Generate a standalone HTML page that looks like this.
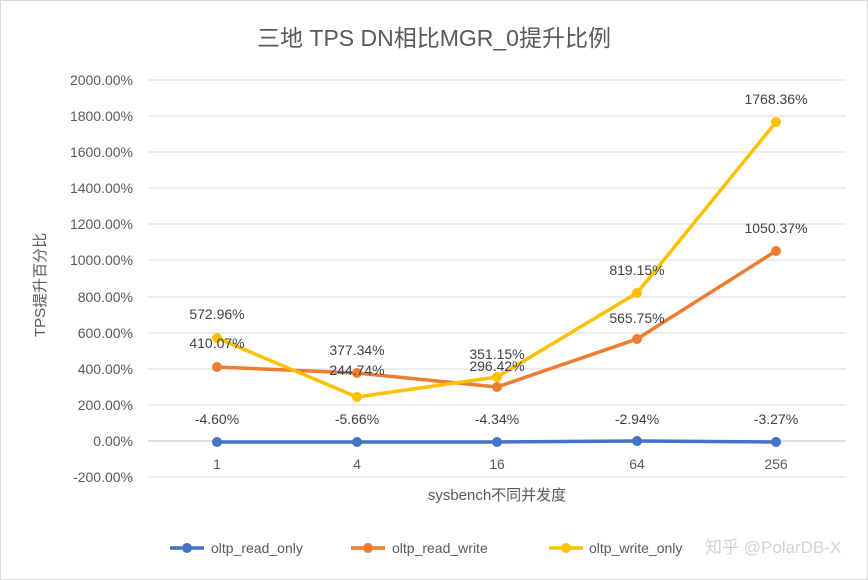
<!DOCTYPE html>
<html><head><meta charset="utf-8"><style>
html,body{margin:0;padding:0;background:#fff;}
svg{display:block;font-family:"Liberation Sans","Noto Sans CJK SC",sans-serif;}
</style></head><body>
<svg width="868" height="580" viewBox="0 0 868 580" xmlns="http://www.w3.org/2000/svg">
<rect x="0.5" y="0.5" width="867" height="579" fill="#fff" stroke="#d9d9d9"/>
<text x="434" y="46" font-size="23" fill="#595959" text-anchor="middle">三地 TPS DN相比MGR_0提升比例</text>
<g stroke="#d9d9d9" stroke-width="1">
<line x1="148" x2="846" y1="80" y2="80"/><line x1="148" x2="846" y1="116" y2="116"/>
<line x1="148" x2="846" y1="152" y2="152"/><line x1="148" x2="846" y1="188" y2="188"/>
<line x1="148" x2="846" y1="224" y2="224"/><line x1="148" x2="846" y1="260" y2="260"/>
<line x1="148" x2="846" y1="297" y2="297"/><line x1="148" x2="846" y1="333" y2="333"/>
<line x1="148" x2="846" y1="369" y2="369"/><line x1="148" x2="846" y1="405" y2="405"/>
<line x1="148" x2="846" y1="477" y2="477"/>
</g>
<line x1="148" x2="846" y1="441" y2="441" stroke="#bfbfbf"/>
<g font-size="14" fill="#595959" text-anchor="end">
<text x="133" y="85">2000.00%</text><text x="133" y="121">1800.00%</text>
<text x="133" y="157">1600.00%</text><text x="133" y="193">1400.00%</text>
<text x="133" y="229">1200.00%</text><text x="133" y="265">1000.00%</text>
<text x="133" y="302">800.00%</text><text x="133" y="338">600.00%</text>
<text x="133" y="374">400.00%</text><text x="133" y="410">200.00%</text>
<text x="133" y="446">0.00%</text><text x="133" y="482">-200.00%</text>
</g>
<g font-size="14" fill="#595959" text-anchor="middle">
<text x="217" y="469">1</text><text x="357" y="469">4</text><text x="497" y="469">16</text>
<text x="637" y="469">64</text><text x="776" y="469">256</text>
<text x="497" y="500" font-size="15">sysbench不同并发度</text>
<text transform="translate(45,285) rotate(-90)" font-size="15">TPS提升百分比</text>
</g>
<polyline points="217,442 357,442 497,442 637,441 776,442" fill="none" stroke="#4472C4" stroke-width="3.5" stroke-linejoin="round"/>
<g fill="#4472C4"><circle cx="217" cy="442" r="5"/><circle cx="357" cy="442" r="5"/><circle cx="497" cy="442" r="5"/><circle cx="637" cy="441" r="5"/><circle cx="776" cy="442" r="5"/></g>
<polyline points="217,367 357,373 497,387 637,339 776,251" fill="none" stroke="#ED7D31" stroke-width="3.5" stroke-linejoin="round"/>
<g fill="#ED7D31"><circle cx="217" cy="367" r="5"/><circle cx="357" cy="373" r="5"/><circle cx="497" cy="387" r="5"/><circle cx="637" cy="339" r="5"/><circle cx="776" cy="251" r="5"/></g>
<polyline points="217,338 357,397 497,377 637,293 776,122" fill="none" stroke="#FFC000" stroke-width="3.5" stroke-linejoin="round"/>
<g fill="#FFC000"><circle cx="217" cy="338" r="5"/><circle cx="357" cy="397" r="5"/><circle cx="497" cy="377" r="5"/><circle cx="637" cy="293" r="5"/><circle cx="776" cy="122" r="5"/></g>
<g font-size="14" fill="#404040" text-anchor="middle">
<text x="217" y="424">-4.60%</text><text x="357" y="424">-5.66%</text><text x="497" y="424">-4.34%</text><text x="637" y="424">-2.94%</text><text x="776" y="424">-3.27%</text>
<text x="217" y="348">410.07%</text><text x="357" y="355">377.34%</text><text x="497" y="371">296.42%</text><text x="637" y="323">565.75%</text><text x="776" y="233">1050.37%</text>
<text x="217" y="319">572.96%</text><text x="357" y="375">244.74%</text><text x="497" y="359">351.15%</text><text x="637" y="275">819.15%</text><text x="776" y="104">1768.36%</text>
</g>
<g font-size="14" fill="#595959">
<line x1="170" x2="204" y1="548" y2="548" stroke="#4472C4" stroke-width="3.5"/><circle cx="187" cy="548" r="5" fill="#4472C4"/>
<text x="211" y="553">oltp_read_only</text>
<line x1="351" x2="385" y1="548" y2="548" stroke="#ED7D31" stroke-width="3.5"/><circle cx="368" cy="548" r="5" fill="#ED7D31"/>
<text x="392" y="553">oltp_read_write</text>
<line x1="549" x2="583" y1="548" y2="548" stroke="#FFC000" stroke-width="3.5"/><circle cx="566" cy="548" r="5" fill="#FFC000"/>
<text x="589" y="553">oltp_write_only</text>
</g>
<text x="705" y="553" font-size="17" fill="#c8c8c8" opacity="0.8">知乎 @PolarDB-X</text>
</svg>
</body></html>
